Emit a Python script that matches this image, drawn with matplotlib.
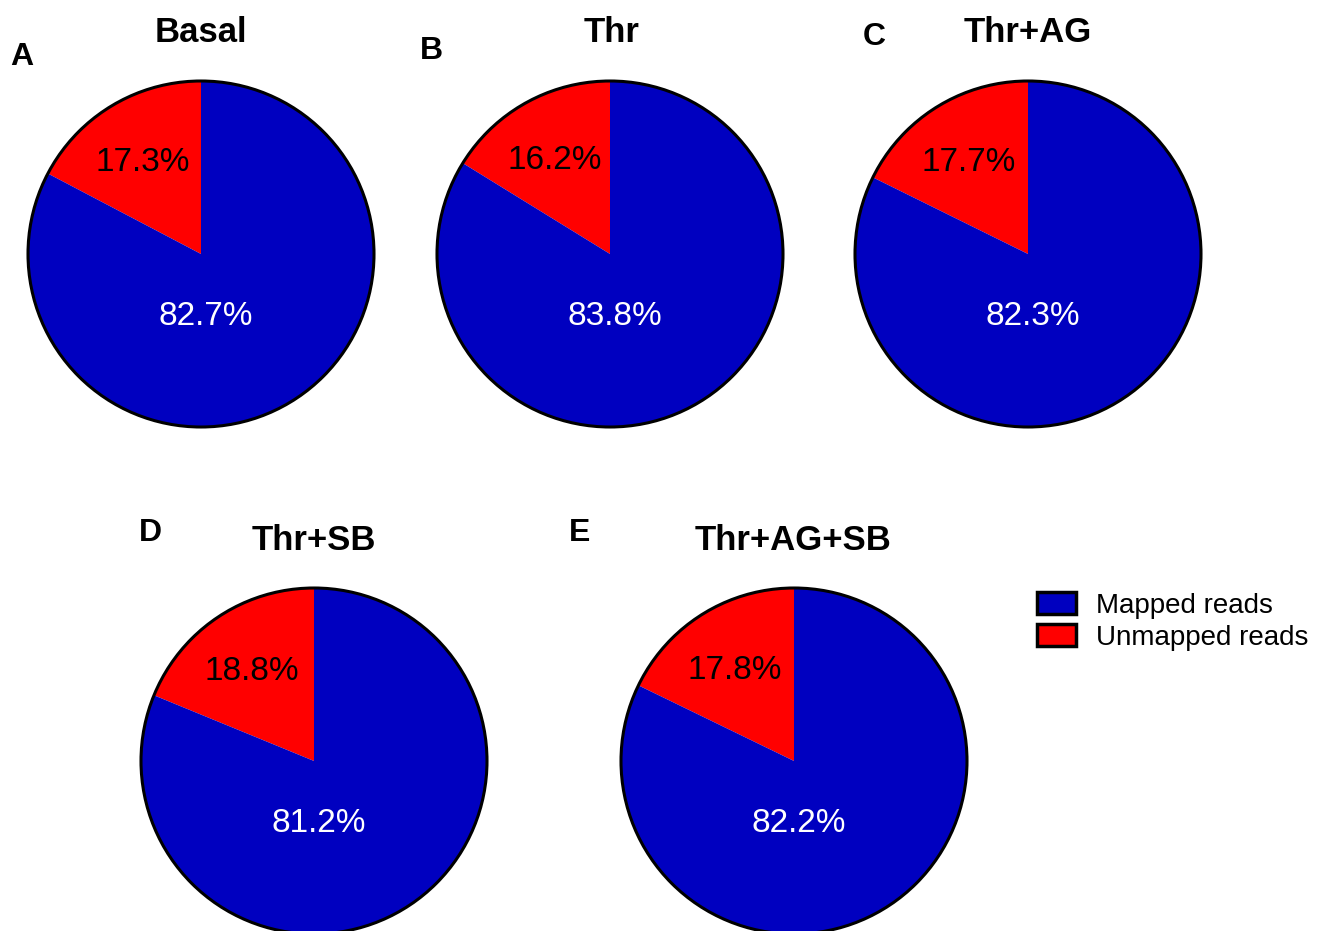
import numpy as np
import matplotlib.pyplot as plt
from matplotlib.patches import Circle, Patch

plt.rcParams['font.family'] = ['Liberation Sans', 'DejaVu Sans']

conditions = ["Basal", "Thr", "Thr+AG", "Thr+SB", "Thr+AG+SB"]
panel_letters = ["A", "B", "C", "D", "E"]
mapped = [82.7, 83.8, 82.3, 81.2, 82.2]
unmapped = [17.3, 16.2, 17.7, 18.8, 17.8]
legend_labels = ["Mapped reads", "Unmapped reads"]

BLUE = "#0000C0"
RED = "#FF0000"

W, H = 1324, 931
fig = plt.figure(figsize=(W / 100, H / 100), dpi=100)

# layout in pixels: pie centre, radius, title pos, letter pos
R = 173
centres = [(201, 254), (610, 254), (1028, 254), (314, 761), (794, 761)]
title_pos = [(201, 32), (612, 32), (1028, 32), (314, 540), (793, 540)]
letter_pos = [(22, 57), (431, 51), (874, 37), (150, 533), (580, 533)]


def fx(x):
    return x / W


def fy(y):
    return 1 - y / H


for i in range(len(conditions)):
    cx, cy = centres[i]
    ax = fig.add_axes([fx(cx - R), fy(cy + R), 2 * R / W, 2 * R / H])
    wedges, _ = ax.pie([unmapped[i], mapped[i]], colors=[RED, BLUE],
                       startangle=90, counterclock=True, radius=1,
                       wedgeprops=dict(linewidth=0))
    ax.add_patch(Circle((0, 0), 1, fill=False, ec="black", lw=2.2, clip_on=False))
    ax.set_xlim(-1, 1)
    ax.set_ylim(-1, 1)
    ax.axis("off")

    red = wedges[0]
    mid = np.deg2rad((red.theta1 + red.theta2) / 2)
    ax.text(0.65 * np.cos(mid), 0.65 * np.sin(mid) - 0.025, f"{unmapped[i]:.1f}%",
            ha="center", va="center", fontsize=24, color="black")
    ax.text(0.03, -0.36, f"{mapped[i]:.1f}%",
            ha="center", va="center", fontsize=24, color="white")

    tx, ty = title_pos[i]
    fig.text(fx(tx), fy(ty), conditions[i], ha="center", va="center",
             fontsize=25, fontweight="bold")
    lx, ly = letter_pos[i]
    fig.text(fx(lx), fy(ly), panel_letters[i], ha="center", va="center",
             fontsize=23, fontweight="bold")

handles = [Patch(facecolor=BLUE, edgecolor="black", linewidth=2.5),
           Patch(facecolor=RED, edgecolor="black", linewidth=2.5)]
fig.legend(handles, legend_labels, loc="upper left",
           bbox_to_anchor=(fx(1018), fy(573)), frameon=False, fontsize=20,
           handlelength=1.37, handleheight=0.8, handletextpad=0.75,
           labelspacing=0.2, borderpad=0.2)

fig.savefig("out.png", dpi=100)
